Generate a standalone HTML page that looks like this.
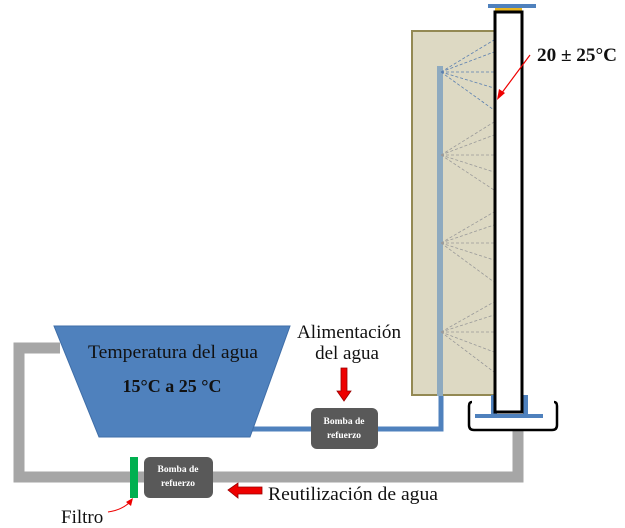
<!DOCTYPE html>
<html><head><meta charset="utf-8"><style>html,body{margin:0;padding:0;background:#fff}svg{display:block}</style></head>
<body>
<svg width="625" height="528" viewBox="0 0 625 528" xmlns="http://www.w3.org/2000/svg" font-family="Liberation Serif, serif">
<path d="M60,348 H19 V477 H518 V430" fill="none" stroke="#a6a6a6" stroke-width="11"/>
<path d="M248,429 H441 V395" fill="none" stroke="#4f81bd" stroke-width="5"/>
<polygon points="54,326 290,326 250,437 99,437" fill="#4f81bd" stroke="#3f6ea8" stroke-width="1"/>
<text x="173" y="358" font-size="19" text-anchor="middle" fill="#111" textLength="170" lengthAdjust="spacingAndGlyphs">Temperatura del agua</text>
<text x="172" y="392" font-size="18" font-weight="bold" text-anchor="middle" fill="#111">15°C a 25 °C</text>
<rect x="412" y="31" width="84" height="364" fill="#ddd9c3" stroke="#938953" stroke-width="2"/>
<rect x="437" y="66" width="6" height="330" fill="#8eaabf"/>
<g fill="none" stroke-width="0.8" stroke-dasharray="3,2">
<g stroke="#5a7fb0">
<path d="M441,72 L494,40 M441,72 L494,52 M441,72 L494,72 M441,72 L494,88 M441,72 L494,110"/>
</g>
<g stroke="#999">
<path d="M441,155 L494,122 M441,155 L494,135 M441,155 L494,155 M441,155 L494,172 M441,155 L494,190"/>
<path d="M441,243 L494,212 M441,243 L494,225 M441,243 L494,243 M441,243 L494,260 M441,243 L494,282"/>
<path d="M441,332 L494,302 M441,332 L494,315 M441,332 L494,332 M441,332 L494,352 M441,332 L494,372"/>
</g>
</g>
<rect x="488" y="4" width="48" height="4" fill="#4f81bd"/>
<rect x="495" y="8" width="27" height="4" fill="#e6b422"/>
<rect x="491" y="395" width="6" height="20" fill="#4f81bd"/>
<rect x="523" y="395" width="5" height="20" fill="#4f81bd"/>
<rect x="475" y="414" width="68" height="4" fill="#4f81bd"/>
<rect x="495" y="12" width="27" height="400" fill="#fff" stroke="#000" stroke-width="3"/>
<path d="M472,402 Q469,402 469,406 V425 Q469,430 474,430 H552 Q557,430 557,425 V406 Q557,402 554,402" fill="none" stroke="#000" stroke-width="2.5"/>
<line x1="530" y1="55" x2="501" y2="94" stroke="#e00" stroke-width="1.2"/>
<polygon points="497,100 499,89 505,93" fill="#e00"/>
<text x="537" y="61" font-size="19" font-weight="bold" fill="#111" textLength="80" lengthAdjust="spacingAndGlyphs">20 ± 25°C</text>
<text x="349" y="338" font-size="19" text-anchor="middle" fill="#111" textLength="104" lengthAdjust="spacingAndGlyphs">Alimentación</text>
<text x="347" y="359" font-size="19" text-anchor="middle" fill="#111">del agua</text>
<polygon points="341,368 347,368 347,391 351,391 344,401 337,391 341,391" fill="#e00" stroke="#900" stroke-width="0.8"/>
<rect x="311" y="408" width="67" height="41" rx="6" fill="#595959"/>
<text x="344" y="424" font-size="9.5" font-weight="bold" text-anchor="middle" fill="#fff">Bomba de</text>
<text x="344" y="438" font-size="9.5" font-weight="bold" text-anchor="middle" fill="#fff">refuerzo</text>
<rect x="144" y="457" width="69" height="41" rx="6" fill="#595959"/>
<text x="178" y="472" font-size="9.5" font-weight="bold" text-anchor="middle" fill="#fff">Bomba de</text>
<text x="178" y="486" font-size="9.5" font-weight="bold" text-anchor="middle" fill="#fff">refuerzo</text>
<rect x="130" y="457" width="8" height="41" fill="#00b050"/>
<polygon points="228,490 238,483 238,487 262,487 262,494 238,494 238,498" fill="#e00" stroke="#900" stroke-width="0.8"/>
<text x="268" y="500" font-size="19" fill="#111" textLength="170" lengthAdjust="spacingAndGlyphs">Reutilización de agua</text>
<text x="61" y="523" font-size="19" fill="#111">Filtro</text>
<path d="M108,512 Q122,510 130,502" fill="none" stroke="#e00" stroke-width="1"/>
<polygon points="133,498 131,506 126,502" fill="#e00"/>
</svg>
</body></html>
